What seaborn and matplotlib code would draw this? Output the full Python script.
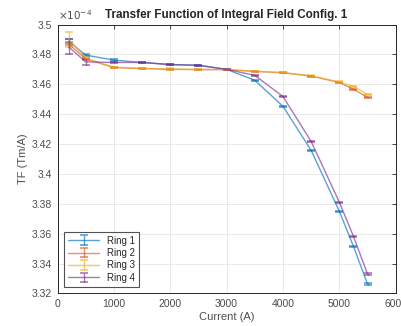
import numpy as np
import matplotlib
matplotlib.use('Agg')
import matplotlib.pyplot as plt
import seaborn as sns

# current (A)
current = [200, 500, 1000, 1500, 2000, 2500, 3000, 3500, 4000, 4500, 5000, 5250, 5500]

# transfer function, in units of 1e-4 Tm/A
ring1 = [3.4888, 3.4795, 3.4762, 3.4746, 3.4733, 3.4726, 3.4700, 3.4627, 3.4453, 3.4158, 3.3750, 3.3516, 3.3263]
ring2 = [3.4870, 3.4770, 3.4712, 3.4705, 3.4700, 3.4698, 3.4698, 3.4686, 3.4677, 3.4655, 3.4612, 3.4567, 3.4512]
ring3 = [3.4900, 3.4775, 3.4714, 3.4707, 3.4702, 3.4700, 3.4699, 3.4688, 3.4679, 3.4657, 3.4615, 3.4587, 3.4531]
ring4 = [3.4850, 3.4750, 3.4746, 3.4746, 3.4731, 3.4728, 3.4700, 3.4660, 3.4518, 3.4218, 3.3811, 3.3583, 3.3330]

err1 = [0.0012, 0.0008, 0.0005, 0.0003, 0.0004, 0.0003, 0.0003, 0.0004, 0.0004, 0.0004, 0.0004, 0.0004, 0.0004]
err2 = [0.0010, 0.0006, 0.0005, 0.0003, 0.0004, 0.0003, 0.0003, 0.0003, 0.0003, 0.0003, 0.0004, 0.0004, 0.0004]
err3 = [0.0050, 0.0008, 0.0005, 0.0003, 0.0004, 0.0003, 0.0003, 0.0003, 0.0003, 0.0003, 0.0004, 0.0004, 0.0004]
err4 = [0.0050, 0.0020, 0.0005, 0.0003, 0.0004, 0.0003, 0.0003, 0.0004, 0.0004, 0.0004, 0.0004, 0.0004, 0.0004]

labels = ['Ring 1', 'Ring 2', 'Ring 3', 'Ring 4']
colors = ['#0072BD', '#D95319', '#EDB120', '#7E2F8E']

sns.set_style('whitegrid')
plt.rcParams['font.family'] = ['Liberation Sans', 'DejaVu Sans']

fig = plt.figure(figsize=(4.01, 3.26), dpi=100)
ax = fig.add_axes([0.1434, 0.0997, 0.8434, 0.8251])

series = [(ring1, err1), (ring2, err2), (ring3, err3), (ring4, err4)]
for (vals, errs), lab, c in zip(series, labels, colors):
    ax.errorbar(current, vals, yerr=errs, color=c, alpha=0.65, lw=1.0,
                elinewidth=1.0, capsize=3, capthick=1.2, label=lab)

ax.set_xlim(0, 6000)
ax.set_ylim(3.32, 3.5)
ax.set_xticks(np.arange(0, 6001, 1000))
ax.set_yticks(np.arange(3.32, 3.501, 0.02))
ax.set_yticklabels(['%g' % round(v, 2) for v in np.arange(3.32, 3.501, 0.02)])

ax.grid(True, color='#e6e6e6', lw=0.6)
for s in ax.spines.values():
    s.set_color('#262626')
    s.set_linewidth(0.7)
ax.tick_params(direction='in', top=True, right=True, length=3, width=0.6,
               labelsize=7.5, colors='#262626', labelcolor='#4d4d4d', pad=4)

ax.set_title('Transfer Function of Integral Field Config. 1', fontsize=8.4,
             fontweight='bold', pad=5)
ax.set_xlabel('Current (A)', fontsize=8, color='#4d4d4d', labelpad=2)
ax.set_ylabel('TF (Tm/A)', fontsize=8, color='#4d4d4d', labelpad=3)
ax.text(0.0, 1.01, r'$\times10^{-4}$', transform=ax.transAxes, fontsize=7.5,
        color='#4d4d4d', ha='left', va='bottom')

leg = ax.legend(loc='lower left', fontsize=7, frameon=True, fancybox=False,
                borderaxespad=0.7, handlelength=3.2, labelspacing=0.25,
                borderpad=0.4)
leg.get_frame().set_edgecolor('#262626')
leg.get_frame().set_linewidth(0.8)

fig.savefig('out.png', dpi=100)
